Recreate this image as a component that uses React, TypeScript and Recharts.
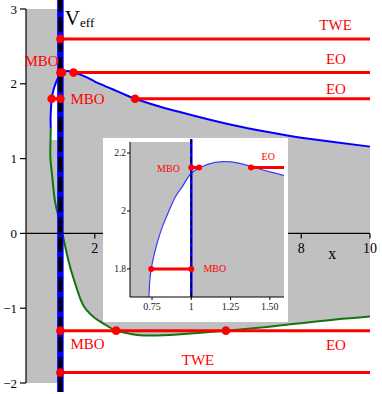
import React from "react";
import {
  Area,
  ComposedChart,
  Line,
  ReferenceArea,
  ReferenceLine,
  Scatter,
  XAxis,
  YAxis,
} from "recharts";

const SERIF = '"Liberation Serif", "Times New Roman", Times, serif';
const RED = "#ff0000";
const GRAY = "#c0c0c0";
const BLUE = "#0000ff";
const GREEN = "#137313";

// ---- values ----
const X_MIN = 0;
const X_MAX = 10;
const Y_MIN = -2;
const Y_MAX = 3;
const Y_TICKS = [-2, -1, 0, 1, 2, 3];
const X_TICKS = [2, 4, 6, 8, 10];

// upper branch (blue), starting at the turning point left of the horizon
const BLUE_X = [0.72, 0.715, 0.73, 0.745, 0.8, 0.85, 0.9, 0.95, 1, 1.1, 1.2, 1.3, 1.4, 1.5, 1.6, 1.8, 2, 2.15, 2.5, 3, 3.17, 3.5, 4, 4.5, 5, 6, 7, 7.6, 8, 9, 10];
const BLUE_Y = [1.4, 1.55, 1.7, 1.8, 1.92, 1.99, 2.05, 2.09, 2.13, 2.16, 2.17, 2.165, 2.15, 2.135, 2.12, 2.08, 2.03, 2.0, 1.93, 1.83, 1.8, 1.75, 1.68, 1.62, 1.56, 1.45, 1.36, 1.31, 1.28, 1.22, 1.16];

// lower branch (green), continuing from the same turning point
const GREEN_X = [0.72, 0.71, 0.71, 0.75, 0.79, 0.84, 0.92, 1, 1.05, 1.1, 1.2, 1.3, 1.45, 1.6, 1.75, 2, 2.3, 2.62, 3, 3.3, 4, 5, 5.81, 7, 8, 9, 10];
const GREEN_Y = [1.4, 1.2, 1.0, 0.82, 0.63, 0.44, 0.27, 0.15, 0.03, -0.09, -0.3, -0.48, -0.7, -0.9, -1.02, -1.13, -1.22, -1.3, -1.34, -1.36, -1.36, -1.33, -1.3, -1.25, -1.2, -1.15, -1.11];

const HORIZON = 1;
const LOOP_FLOOR = 1.25;

// red energy levels
const RED_LINES = [
  { y: 2.6, from: 1, to: 10 },
  { y: 2.15, from: 1, to: 1.05 },
  { y: 2.15, from: 1.38, to: 10 },
  { y: 1.8, from: 3.17, to: 10 },
  { y: 1.8, from: 0.745, to: 1 },
  { y: -1.3, from: 1, to: 10 },
  { y: -1.86, from: 1, to: 10 },
];
const DOT_X = [1, 1, 1.05, 1.38, 1, 0.745, 3.17, 1, 2.62, 5.81, 1];
const DOT_Y = [2.6, 2.15, 2.15, 2.15, 1.8, 1.8, 1.8, -1.3, -1.3, -1.3, -1.86];

const LABELS = [
  { text: "TWE", x: 9.0, y: 2.79 },
  { text: "EO", x: 9.01, y: 2.33 },
  { text: "EO", x: 9.01, y: 1.93 },
  { text: "MBO", x: 0.45, y: 2.31 },
  { text: "MBO", x: 1.79, y: 1.8 },
  { text: "MBO", x: 1.79, y: -1.48 },
  { text: "EO", x: 9.01, y: -1.49 },
  { text: "TWE", x: 5.0, y: -1.69 },
];
const X_TITLE = { text: "x", x: 8.9, y: -0.27 };
const V_TITLE = { x: 1.13, y: 2.78 };

const ARROW = [
  { x: 1.19, y: 1.02 },
  { x: 4.24, y: 0.24 },
];

// inset
const INSET_X = [0.61, 1.59];
const INSET_Y = [1.703, 2.238];
const INSET_X_TICKS = [0.75, 1, 1.25, 1.5];
const INSET_X_LABELS = ["0.75", "1", "1.25", "1.50"];
const INSET_Y_TICKS = [1.8, 2, 2.2];
const INSET_LABELS = [
  { text: "MBO", x: 0.855, y: 2.146 },
  { text: "EO", x: 1.49, y: 2.187 },
  { text: "MBO", x: 1.15, y: 1.8 },
];

// ---- derived series ----
const bluePts = BLUE_X.map((x, i) => ({ x, y: BLUE_Y[i] }));
const greenPts = GREEN_X.map((x, i) => ({ x, y: GREEN_Y[i] }));
const aboveBlue = bluePts.filter((p) => p.x >= HORIZON).map((p) => ({ x: p.x, band: [p.y, Y_MAX] }));
const belowGreen = greenPts.filter((p) => p.x >= HORIZON).map((p) => ({ x: p.x, band: [Y_MIN, p.y] }));
const loopWhite = bluePts
  .slice(1)
  .filter((p) => p.x <= HORIZON)
  .map((p) => ({ x: p.x, band: [LOOP_FLOOR, p.y] }));
const dots = DOT_X.map((x, i) => ({ x, y: DOT_Y[i] }));
const xTicks = X_TICKS.map((x) => ({ x, y: 0 }));

const minus = (v: number) => String(v).replace("-", "\u2212");

function makeDot(r: number) {
  return (p: any) => <circle cx={p.cx} cy={p.cy} r={r} fill={RED} />;
}

function makeLabel(size: number, color: string) {
  return (p: any) => (
    <text
      x={p.cx}
      y={p.cy}
      dy="0.35em"
      textAnchor="middle"
      fontFamily={SERIF}
      fontSize={size}
      fill={color}
    >
      {p.payload.text}
    </text>
  );
}

function XTick(p: any) {
  return (
    <g>
      <line x1={p.cx} y1={p.cy} x2={p.cx} y2={p.cy + 5} stroke="#000" strokeWidth={1.2} />
      <text x={p.cx} y={p.cy + 20} textAnchor="middle" fontFamily={SERIF} fontSize={14} fill="#000">
        {p.payload.x}
      </text>
    </g>
  );
}

function VTitle(p: any) {
  return (
    <text x={p.cx} y={p.cy} fontFamily={SERIF} fontSize={21} fill="#000">
      V
      <tspan fontSize={13} dy={2}>
        eff
      </tspan>
    </text>
  );
}

function ArrowShape(p: any) {
  const { x1, y1, x2, y2 } = p;
  const a = Math.atan2(y2 - y1, x2 - x1);
  const len = 9;
  const half = 3.2;
  const bx = x2 - len * Math.cos(a);
  const by = y2 - len * Math.sin(a);
  return (
    <g>
      <line x1={x1} y1={y1} x2={bx} y2={by} stroke="#000" strokeWidth={1.6} />
      <polygon
        points={`${x2},${y2} ${bx - half * Math.sin(a)},${by + half * Math.cos(a)} ${bx + half * Math.sin(a)},${by - half * Math.cos(a)}`}
        fill="#000"
      />
    </g>
  );
}

function Inset() {
  return (
    <div style={{ position: "absolute", left: 103, top: 138, width: 185, height: 184, background: "#fff" }}>
      <ComposedChart width={185} height={184} margin={{ top: 4, right: 4, bottom: 0, left: 0 }}>
        <XAxis
          type="number"
          dataKey="x"
          domain={INSET_X}
          allowDataOverflow
          ticks={INSET_X_TICKS}
          interval={0}
          height={25}
          tickSize={3}
          tickMargin={3}
          axisLine={{ stroke: "#000" }}
          tickLine={{ stroke: "#000" }}
          tick={{ fill: "#222", fontSize: 10, fontFamily: SERIF }}
          tickFormatter={(v: number) => INSET_X_LABELS[INSET_X_TICKS.indexOf(v)] ?? String(v)}
        />
        <YAxis
          type="number"
          dataKey="y"
          domain={INSET_Y}
          allowDataOverflow
          ticks={INSET_Y_TICKS}
          interval={0}
          width={27}
          tickSize={3}
          tickMargin={1}
          axisLine={{ stroke: "#000" }}
          tickLine={{ stroke: "#000" }}
          tick={{ fill: "#222", fontSize: 9.5, fontFamily: SERIF }}
        />
        <ReferenceArea
          x1={INSET_X[0]}
          x2={INSET_X[1]}
          y1={INSET_Y[0]}
          y2={INSET_Y[1]}
          fill={GRAY}
          fillOpacity={1}
          stroke="none"
          zIndex={50}
        />
        <Area data={loopWhite} dataKey="band" type="natural" stroke="none" fill="#fff" fillOpacity={1} isAnimationActive={false} zIndex={100} />
        <Area data={aboveBlue} dataKey="band" type="natural" stroke="none" fill="#fff" fillOpacity={1} isAnimationActive={false} zIndex={100} />
        <Line data={bluePts} dataKey="y" type="natural" stroke="#3a3aff" strokeWidth={1.2} dot={false} isAnimationActive={false} />
        <ReferenceLine
          segment={[{ x: HORIZON, y: INSET_Y[0] }, { x: HORIZON, y: INSET_Y[1] + 0.01 }]}
          ifOverflow="visible"
          stroke={BLUE}
          strokeWidth={2.5}
          zIndex={450}
        />
        <ReferenceLine
          segment={[{ x: HORIZON, y: INSET_Y[0] }, { x: HORIZON, y: INSET_Y[1] + 0.01 }]}
          ifOverflow="visible"
          stroke="#000"
          strokeWidth={1.2}
          strokeDasharray="5 4"
          zIndex={451}
        />
        {RED_LINES.map((l, i) => (
          <ReferenceLine
            key={i}
            segment={[{ x: l.from, y: l.y }, { x: l.to, y: l.y }]}
            ifOverflow="hidden"
            stroke={RED}
            strokeWidth={3}
            zIndex={500}
          />
        ))}
        <Scatter data={dots} shape={makeDot(3)} isAnimationActive={false} zIndex={600} />
        <Scatter data={INSET_LABELS} shape={makeLabel(10, RED)} isAnimationActive={false} zIndex={700} />
      </ComposedChart>
    </div>
  );
}

export default function App() {
  return (
    <div style={{ position: "absolute", left: 0, top: 0, width: 382, height: 394, background: "#fff" }}>
      <ComposedChart width={382} height={394} margin={{ top: 9, right: 12, bottom: 11, left: 0 }}>
        <XAxis type="number" dataKey="x" domain={[X_MIN, X_MAX]} hide />
        <YAxis
          type="number"
          dataKey="y"
          domain={[Y_MIN, Y_MAX]}
          ticks={Y_TICKS}
          interval={0}
          width={26}
          tickSize={6}
          tickMargin={3}
          axisLine={{ stroke: "#000", strokeWidth: 1.2 }}
          tickLine={{ stroke: "#000", strokeWidth: 1.2 }}
          tick={{ fill: "#000", fontSize: 13, fontFamily: SERIF }}
          tickFormatter={minus}
        />
        <ReferenceArea x1={X_MIN} x2={X_MAX} y1={Y_MIN} y2={Y_MAX} fill={GRAY} fillOpacity={1} stroke="none" zIndex={50} />
        <Area data={loopWhite} dataKey="band" type="natural" stroke="none" fill="#fff" fillOpacity={1} isAnimationActive={false} zIndex={100} />
        <Area data={aboveBlue} dataKey="band" type="natural" stroke="none" fill="#fff" fillOpacity={1} isAnimationActive={false} zIndex={100} />
        <Area data={belowGreen} dataKey="band" type="natural" stroke="none" fill="#fff" fillOpacity={1} isAnimationActive={false} zIndex={100} />
        <Line data={bluePts} dataKey="y" type="natural" stroke={BLUE} strokeWidth={2} dot={false} isAnimationActive={false} />
        <Line data={greenPts} dataKey="y" type="natural" stroke={GREEN} strokeWidth={2} dot={false} isAnimationActive={false} />
        <ReferenceLine
          segment={[{ x: HORIZON, y: Y_MIN - 0.12 }, { x: HORIZON, y: Y_MAX + 0.12 }]}
          ifOverflow="visible"
          stroke={BLUE}
          strokeWidth={6.5}
          zIndex={450}
        />
        <ReferenceLine
          segment={[{ x: HORIZON, y: Y_MIN - 0.12 }, { x: HORIZON, y: Y_MAX + 0.12 }]}
          ifOverflow="visible"
          stroke="#000"
          strokeWidth={4}
          strokeDasharray="15 5"
          zIndex={451}
        />
        <ReferenceLine y={0} stroke="#000" strokeWidth={1.2} zIndex={455} />
        {RED_LINES.map((l, i) => (
          <ReferenceLine
            key={i}
            segment={[{ x: l.from, y: l.y }, { x: l.to, y: l.y }]}
            stroke={RED}
            strokeWidth={3}
            zIndex={500}
          />
        ))}
        <Scatter data={dots} shape={makeDot(4.3)} isAnimationActive={false} zIndex={600} />
        <Scatter data={xTicks} shape={XTick} isAnimationActive={false} zIndex={600} />
        <Scatter data={LABELS} shape={makeLabel(15, RED)} isAnimationActive={false} zIndex={700} />
        <Scatter data={[X_TITLE]} shape={makeLabel(16, "#000")} isAnimationActive={false} zIndex={700} />
        <Scatter data={[V_TITLE]} shape={VTitle} isAnimationActive={false} zIndex={700} />
      </ComposedChart>
      <Inset />
      <div style={{ position: "absolute", left: 0, top: 0, pointerEvents: "none" }}>
        <ComposedChart width={382} height={394} margin={{ top: 9, right: 12, bottom: 11, left: 26 }}>
          <XAxis type="number" dataKey="x" domain={[X_MIN, X_MAX]} hide />
          <YAxis type="number" dataKey="y" domain={[Y_MIN, Y_MAX]} hide />
          <ReferenceLine segment={ARROW} shape={ArrowShape} ifOverflow="visible" />
        </ComposedChart>
      </div>
    </div>
  );
}
